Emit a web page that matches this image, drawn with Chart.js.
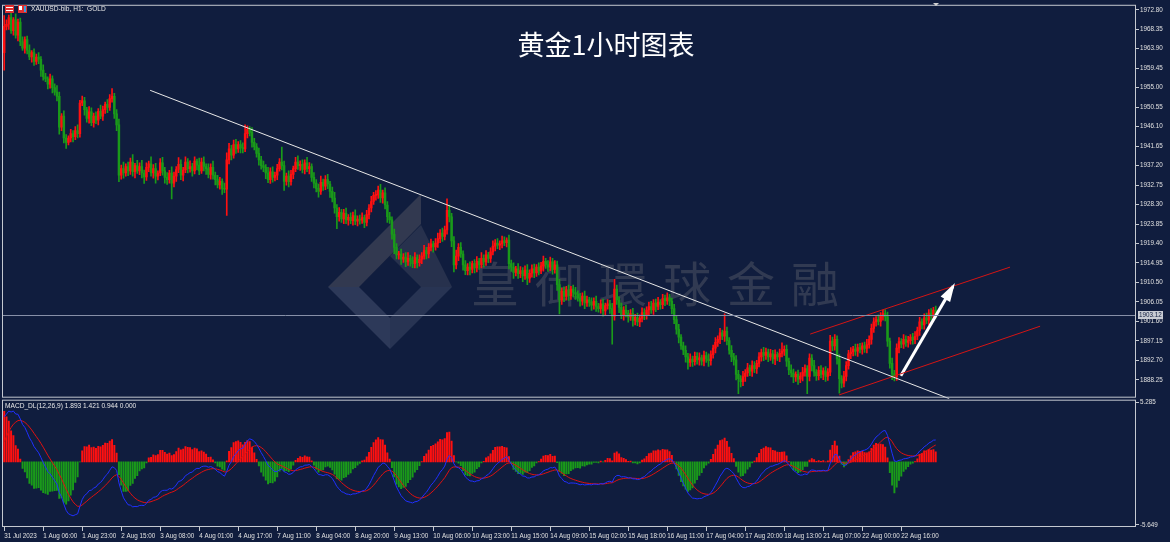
<!DOCTYPE html>
<html>
<head>
<meta charset="utf-8">
<script src="https://cdn.jsdelivr.net/npm/chart.js@4.4.0/dist/chart.umd.min.js"></script>
<style>
  html, body { margin: 0; padding: 0; background: #101d3e; }
  #wrap { width: 1170px; height: 542px; position: relative; }
</style>
</head>
<body>
<div id="wrap"><canvas id="gold-chart" width="1170" height="542"></canvas></div>
<script>
// XAUUSD H1, 31 Jul - 23 Aug 2023
const tickLabels = ['31 Jul 2023', '1 Aug 06:00', '1 Aug 23:00', '2 Aug 15:00', '3 Aug 08:00', '4 Aug 01:00',
  '4 Aug 17:00', '7 Aug 11:00', '8 Aug 04:00', '8 Aug 20:00', '9 Aug 13:00', '10 Aug 06:00', '10 Aug 23:00',
  '11 Aug 15:00', '14 Aug 09:00', '15 Aug 02:00', '15 Aug 18:00', '16 Aug 11:00', '17 Aug 04:00',
  '17 Aug 20:00', '18 Aug 13:00', '21 Aug 07:00', '22 Aug 00:00', '22 Aug 16:00'];
const barsPerTick = 17;

const priceTicks = [1972.80, 1968.35, 1963.90, 1959.45, 1955.00, 1950.55, 1946.10, 1941.65, 1937.20, 1932.75,
  1928.30, 1923.85, 1919.40, 1914.95, 1910.50, 1906.05, 1901.60, 1897.15, 1892.70, 1888.25];
const macdTicks = [5.285, -5.649];

const firstOpen = 1963.0;
const closes = [
  1969.0, 1969.5, 1971.0, 1968.0, 1970.5, 1967.0, 1970.0, 1965.5, 1964.0, 1966.0,
  1963.5, 1962.0, 1963.0, 1961.0, 1962.0, 1961.5, 1959.0, 1957.5, 1957.0, 1955.8,
  1957.0, 1955.0, 1954.0, 1953.0, 1946.0, 1948.5, 1943.5, 1942.5, 1943.5, 1944.5,
  1943.8, 1945.2, 1944.5, 1951.5, 1952.0, 1950.0, 1948.0, 1949.5, 1947.0, 1948.5,
  1947.6, 1949.6, 1948.5, 1950.0, 1951.2, 1950.5, 1952.5, 1953.0, 1949.0, 1946.5,
  1935.0, 1936.5, 1935.5, 1937.0, 1936.0, 1938.0, 1935.8, 1937.2, 1936.0, 1937.0,
  1935.5, 1934.6, 1936.8, 1937.6, 1935.5, 1936.5, 1934.8, 1935.5, 1937.8, 1936.0,
  1934.5, 1934.0, 1935.5, 1933.2, 1934.8, 1936.3, 1937.5, 1935.0, 1936.2, 1938.0,
  1936.5, 1937.0, 1936.0, 1938.2, 1937.3, 1936.0, 1938.0, 1937.0, 1936.5, 1935.2,
  1936.8, 1935.0, 1934.0, 1932.8, 1933.6, 1932.0, 1931.8, 1938.5, 1941.0, 1939.6,
  1942.0, 1941.0, 1942.0, 1941.3, 1941.0, 1944.5, 1945.5, 1944.8, 1942.5, 1941.5,
  1940.0, 1938.5, 1937.2, 1936.8, 1935.5, 1934.0, 1935.8, 1934.5, 1935.0, 1936.5,
  1938.0, 1937.2, 1933.6, 1934.8, 1933.5, 1935.2, 1936.5, 1938.0, 1937.2, 1937.5,
  1936.3, 1937.8, 1936.5, 1937.0, 1934.5, 1933.2, 1932.0, 1931.3, 1933.4, 1932.5,
  1934.0, 1933.0, 1931.3, 1929.8, 1927.5, 1925.5, 1926.5, 1925.0, 1926.3, 1924.8,
  1925.4, 1924.6, 1925.8, 1924.5, 1925.0, 1924.7, 1925.3, 1924.2, 1926.0, 1927.5,
  1929.0, 1930.4, 1930.5, 1931.6, 1929.8, 1931.0, 1928.2, 1925.5, 1924.8, 1921.5,
  1918.5, 1916.8, 1917.0, 1915.8, 1916.3, 1915.2, 1916.0, 1915.5, 1914.8, 1916.2,
  1915.0, 1915.8, 1916.5, 1917.8, 1917.0, 1918.5, 1919.3, 1918.6, 1919.5, 1920.5,
  1921.8, 1921.0, 1922.5, 1927.0, 1925.5, 1920.0, 1914.5, 1916.5, 1918.5, 1917.0,
  1914.5, 1913.2, 1914.0, 1913.5, 1914.8, 1913.8, 1915.3, 1914.5, 1916.0, 1915.2,
  1916.8, 1916.0, 1917.5, 1918.8, 1919.5, 1919.0, 1919.3, 1920.0, 1919.6, 1920.2,
  1914.8, 1914.0, 1912.8, 1913.6, 1912.5, 1913.2, 1912.0, 1913.3, 1911.5, 1912.6,
  1913.6, 1912.7, 1914.0, 1913.2, 1914.3, 1915.3, 1914.6, 1914.0, 1915.2, 1913.5,
  1914.5, 1910.0, 1906.5, 1908.5, 1907.3, 1908.8, 1907.5, 1909.0, 1908.2, 1907.8,
  1907.0, 1906.2, 1907.4, 1905.8, 1906.5, 1906.0, 1905.3, 1906.2, 1905.0, 1904.5,
  1905.6, 1904.0, 1905.2, 1905.6, 1904.5, 1902.8, 1909.0, 1906.5, 1904.8, 1903.0,
  1904.2, 1903.5, 1902.6, 1903.4, 1901.8, 1902.5, 1901.5, 1902.3, 1903.6, 1903.0,
  1904.2, 1905.0, 1904.2, 1905.8, 1905.0, 1906.0, 1905.4, 1906.8, 1906.3, 1906.9,
  1906.2, 1904.5, 1902.0, 1899.8, 1898.0, 1896.0, 1895.0, 1893.5, 1892.2, 1893.0,
  1892.4, 1893.6, 1892.8, 1893.3, 1892.5, 1893.8, 1893.0, 1892.6, 1894.0, 1895.5,
  1896.8, 1897.5, 1899.0, 1898.2, 1899.4, 1897.2, 1895.0, 1893.5, 1892.8, 1889.5,
  1888.5, 1887.8, 1889.0, 1889.8, 1891.0, 1890.2, 1891.5, 1890.8, 1892.0, 1893.5,
  1894.5, 1893.8, 1894.6, 1893.5, 1894.2, 1893.0, 1894.0, 1893.5, 1894.3, 1894.8,
  1895.2, 1892.5, 1890.5, 1889.8, 1888.9, 1889.5, 1888.4, 1889.1, 1890.0, 1890.8,
  1889.0, 1893.2, 1891.5, 1890.0, 1889.2, 1890.4, 1889.5, 1890.3, 1889.0, 1890.0,
  1897.1, 1896.0, 1897.5, 1893.0, 1888.5, 1887.5, 1889.0, 1891.5, 1894.2, 1894.6,
  1895.3, 1894.8, 1895.6, 1895.2, 1896.0, 1895.4, 1896.3, 1897.5, 1900.0, 1901.5,
  1902.0, 1901.6, 1902.8, 1903.4, 1902.7, 1897.1, 1892.0, 1889.6, 1889.0, 1895.5,
  1897.0, 1896.4, 1897.5, 1896.8, 1897.2, 1898.0, 1897.4, 1898.2, 1899.5, 1901.5,
  1900.8, 1902.4, 1901.9, 1903.5, 1902.8, 1904.2, 1903.12
];
const upWick = [
  2.5,1.0,0.6,1.2,0.5,1.4,0.7,0.9,1.1,0.6, 0.8,1.3,0.5,0.9,0.7,1.0,0.6,1.2,0.8,0.5,
  1.1,0.7,0.9,1.5,1.0,0.6,1.2,0.8,0.5,1.0, 0.7,0.9,1.3,0.6,1.1,0.8,0.5,1.2,0.9,0.7,
  1.0,0.6,1.4,0.8,0.5,1.1,0.9,1.8,0.7,1.0, 1.3,0.8,1.5,0.6,1.0,0.9,1.7,0.5,1.2,0.8,
  1.4,0.7,1.0,0.6,1.6,0.9,1.2,0.5,1.0,1.3, 0.8,1.1,0.6,1.4,0.9,0.7,1.5,1.0,0.6,1.2,
  0.8,1.3,0.7,1.0,0.5,1.6,0.9,1.2,0.6,1.1, 0.8,1.4,0.7,1.0,0.9,0.6,1.2,1.6,1.3,0.8,
  1.0,1.2,0.7,0.9,1.1,2.0,0.8,0.6,1.1,0.9, 0.7,1.2,0.8,1.0,0.6,1.3,0.9,1.1,0.7,1.0,
  0.8,3.4,1.0,0.7,1.2,0.9,0.6,1.1,1.4,0.8, 1.0,0.7,1.3,0.9,0.6,1.1,0.8,1.0,1.4,0.7,
  0.9,1.2,0.6,1.0,1.3,0.8,1.1,0.7,0.9,1.2, 0.6,1.0,0.8,1.3,0.7,0.9,1.1,0.6,1.0,0.8,
  1.2,0.7,1.0,0.9,1.3,0.6,1.1,0.8,1.0,0.7, 1.2,0.9,0.6,1.1,0.8,1.0,1.3,0.7,0.9,1.1,
  0.6,1.0,0.8,1.2,0.7,0.9,1.1,0.6,1.0,1.3, 0.8,1.1,0.9,2.6,1.2,0.8,1.0,1.4,0.9,1.1,
  0.7,1.0,0.8,1.2,0.6,0.9,1.1,0.7,1.3,0.8, 1.0,0.6,0.9,1.2,0.8,1.0,0.7,1.1,0.9,0.5,
  1.1,0.8,1.0,0.6,1.2,0.9,0.7,1.0,1.3,0.8, 0.9,1.1,0.6,1.0,0.8,1.2,0.7,0.9,1.1,0.8,
  1.0,0.9,1.2,0.7,1.0,0.8,1.1,0.6,0.9,1.2, 0.8,1.0,0.7,1.1,0.9,0.6,1.0,0.8,1.2,0.7,
  0.9,1.1,0.6,1.0,0.8,1.2,2.2,0.9,0.7,1.0, 0.8,1.1,0.6,0.9,1.2,0.7,1.0,0.8,1.1,0.9,
  0.7,1.0,1.2,0.8,0.9,1.1,0.6,1.0,0.8,1.2, 0.9,0.7,1.0,0.8,1.1,0.6,0.9,1.0,0.8,1.2,
  0.7,1.0,0.9,1.1,0.6,1.0,0.8,1.2,0.9,0.7, 1.1,0.8,1.0,0.6,3.9,0.9,0.7,1.1,0.8,1.0,
  0.9,0.7,1.2,0.8,1.0,0.6,1.1,0.9,0.7,1.0, 0.8,1.2,0.9,0.7,1.0,0.8,1.1,0.6,1.0,1.9,
  0.8,1.0,0.7,1.2,0.9,0.6,1.0,0.8,1.1,0.9, 0.7,1.0,0.8,1.2,0.6,0.9,1.1,0.7,1.0,0.8,
  1.3,0.9,1.1,0.8,1.0,0.7,1.2,0.9,0.8,1.0, 0.6,1.1,0.8,1.0,0.7,0.9,1.2,0.8,1.0,0.9,
  0.7,1.1,0.8,0.8,0.9,1.0,0.7,1.2,0.8,1.0, 0.9,0.7,1.1,0.8,1.0,0.6,0.9,1.1,0.8,1.0,
  0.7,0.9,1.1,0.8,1.0,0.6,0.9
];
const downWick = [
  4.0,0.8,1.2,0.6,1.0,0.7,1.3,0.9,0.5,1.1, 0.8,0.6,1.2,0.9,0.7,1.0,1.4,0.8,0.6,1.1,
  0.9,1.2,0.7,1.0,1.6,0.8,1.1,1.4,0.6,0.9, 1.2,0.7,1.0,0.8,0.6,1.3,0.9,1.1,0.7,1.0,
  0.8,1.1,0.6,1.0,0.9,1.2,0.7,0.8,1.0,1.3, 1.5,0.9,1.2,0.7,1.1,0.8,1.0,1.4,0.6,0.9,
  1.1,1.5,0.8,1.0,0.7,1.2,1.6,0.9,0.6,1.0, 1.3,1.1,0.8,3.6,0.9,1.2,0.7,1.0,1.3,0.6,
  1.0,0.8,1.2,0.7,1.1,0.9,0.6,1.0,1.3,0.8, 1.1,0.9,1.2,0.7,1.0,1.4,0.8,6.0,0.9,1.1,
  0.7,1.0,0.8,1.2,0.9,0.6,1.0,0.8,1.1,0.7, 0.9,1.2,0.8,1.0,1.3,0.7,0.9,1.1,0.8,1.0,
  0.6,1.0,2.1,0.9,1.2,0.8,1.0,0.7,0.9,1.1, 0.8,1.0,0.7,1.2,0.9,1.1,0.8,1.3,0.7,1.0,
  0.8,1.1,1.4,0.9,1.2,2.7,1.0,0.8,1.1,0.9, 1.2,0.7,1.0,0.8,1.1,0.9,0.7,1.2,0.8,1.0,
  0.9,0.7,1.1,0.8,1.0,1.2,0.9,1.3,0.8,1.1, 1.4,0.9,1.0,1.2,0.7,1.1,0.8,1.3,0.9,1.0,
  1.2,0.8,1.0,0.7,1.1,0.9,0.8,1.2,0.7,1.0, 0.9,1.1,0.8,1.0,1.2,1.3,1.6,0.9,1.0,0.8,
  1.2,0.9,1.0,1.3,0.8,1.1,0.9,1.0,0.7,1.2, 0.8,1.0,0.9,0.7,1.1,0.8,1.0,0.9,0.7,1.0,
  1.2,1.0,1.4,0.8,1.1,0.9,1.3,0.8,1.5,1.0, 0.9,1.1,0.8,1.0,0.7,1.2,0.9,1.0,0.8,1.1,
  0.9,1.3,3.2,1.0,1.2,0.8,1.1,0.9,1.0,1.2, 0.8,1.1,0.9,1.3,0.8,1.0,1.2,0.9,1.1,0.8,
  1.0,1.2,0.9,0.8,1.1,6.4,0.9,1.0,1.2,0.8, 1.1,0.9,1.2,0.8,1.3,1.0,0.9,1.1,0.8,1.0,
  0.9,1.1,0.8,1.0,1.2,0.7,1.0,0.9,1.1,0.8, 1.0,1.2,0.9,1.1,1.3,0.8,1.0,1.2,1.5,0.9,
  1.1,0.8,1.0,1.2,0.9,1.1,0.8,1.3,1.0,0.8, 1.1,0.9,1.0,0.8,1.2,1.0,0.9,1.1,1.2,1.3,
  3.4,1.2,0.9,1.1,0.8,1.0,1.2,0.9,1.1,0.8, 1.0,1.2,0.9,1.1,0.8,1.0,1.3,0.9,1.1,0.8,
  1.0,1.2,1.1,0.9,1.3,1.0,1.2,0.8,1.1,0.9, 3.9,1.0,1.2,0.9,1.1,1.0,0.8,1.2,1.1,0.9,
  0.8,1.1,1.0,1.2,3.3,1.1,0.9,1.0,0.8,1.1, 0.9,1.0,1.2,0.8,1.1,0.9,1.0,0.8,1.1,0.9,
  1.0,0.8,1.1,0.9,1.0,1.2,1.1,1.3,1.0,0.9, 1.1,0.8,1.0,0.9,1.1,0.8,1.0,0.9,0.8,1.1,
  0.9,1.0,0.8,1.1,0.9,1.0,0.8
];
const lastPrice = 1903.12;

// MACD_DL(12,26,9): state carried in from the bars before the visible window
const macdSeed = { ema12: 1961.5, ema26: 1957.8, dea: 1.2 };
const macdLabel = 'MACD_DL(12,26,9) 1.893 1.421 0.944 0.000';

// hand-drawn objects on the chart, as [bar index, price]
const trendLine = [[63.6, 1954.4], [411.9, 1883.94]];
const channelUpper = [[351.3, 1898.7], [438.4, 1914.0]];
const channelLower = [[363.9, 1884.8], [451.5, 1900.5]];
const arrowLine = [[390.8, 1889.2], [413.5, 1909.6]];

const BG = '#101d3e';
const FRAME = '#c4c8d0';
const UP = '#ff1010';
const DOWN = '#1a9a1a';
const AXIS_FONT = "'Liberation Sans', Arial, sans-serif";

const opens = closes.map((c, i) => i === 0 ? firstOpen : closes[i - 1]);
const highs = closes.map((c, i) => Math.max(opens[i], c) + upWick[i]);
const lows = closes.map((c, i) => Math.min(opens[i], c) - downWick[i]);
const candleColors = closes.map((c, i) => c >= opens[i] ? UP : DOWN);

const dif = [], dea = [], hist = [];
let e12 = macdSeed.ema12, e26 = macdSeed.ema26, sig = macdSeed.dea;
closes.forEach(c => {
  e12 += (c - e12) * 2 / 13;
  e26 += (c - e26) * 2 / 27;
  const m = e12 - e26;
  sig += (m - sig) * 2 / 10;
  dif.push(m);
  dea.push(sig);
  hist.push(2 * (m - sig));
});

function pts(arr) {
  return arr.map(p => ({ x: p[0], y: p[1] }));
}

const overlay = {
  id: 'overlay',
  beforeDraw(chart) {
    const ctx = chart.ctx;
    ctx.save();
    ctx.fillStyle = BG;
    ctx.fillRect(0, 0, chart.width, chart.height);
    ctx.restore();
  },
  beforeDatasetsDraw(chart) {
    const ctx = chart.ctx;
    const y = chart.scales.y;
    const a = chart.chartArea;
    ctx.save();
    ctx.beginPath();
    ctx.rect(a.left, y.top, a.right - a.left, y.bottom - y.top);
    ctx.clip();
    // watermark logo
    const polys = [
      [[[328, 287], [421, 194], [421, 224], [359, 287]], 'rgba(150,140,130,0.26)'],
      [[[328, 287], [359, 287], [390, 318], [390, 349]], 'rgba(150,160,185,0.22)'],
      [[[390, 256], [421, 225], [452, 287], [421, 287]], 'rgba(110,110,120,0.26)'],
      [[[421, 287], [452, 287], [390, 349], [390, 318]], 'rgba(150,160,185,0.18)']
    ];
    polys.forEach(([p, col]) => {
      ctx.beginPath();
      ctx.moveTo(p[0][0], p[0][1]);
      p.slice(1).forEach(q => ctx.lineTo(q[0], q[1]));
      ctx.closePath();
      ctx.fillStyle = col;
      ctx.fill();
    });
    ctx.fillStyle = 'rgba(120,120,125,0.32)';
    ctx.font = "48px 'Noto Sans CJK TC', 'Noto Sans CJK SC', sans-serif";
    ctx.textBaseline = 'middle';
    ctx.textAlign = 'left';
    ctx.letterSpacing = '16px';
    ctx.fillText('皇御環球金融', 471, 284);
    ctx.restore();
  },
  afterDatasetsDraw(chart) {
    const ctx = chart.ctx;
    const a = chart.chartArea;
    const x = chart.scales.x, y = chart.scales.y, ym = chart.scales.yMacd;
    ctx.save();

    // current price line and label
    const py = Math.round(y.getPixelForValue(lastPrice)) + 0.5;
    ctx.strokeStyle = '#8790a8';
    ctx.lineWidth = 1;
    ctx.beginPath();
    ctx.moveTo(a.left, py);
    ctx.lineTo(a.right, py);
    ctx.stroke();

    // arrow head
    const x0 = x.getPixelForValue(arrowLine[0][0]), y0 = y.getPixelForValue(arrowLine[0][1]);
    const x1 = x.getPixelForValue(arrowLine[1][0]), y1 = y.getPixelForValue(arrowLine[1][1]);
    const ang = Math.atan2(y1 - y0, x1 - x0);
    const hl = 15, hw = 5.5;
    ctx.fillStyle = '#ffffff';
    ctx.beginPath();
    ctx.moveTo(x1 + Math.cos(ang) * 4, y1 + Math.sin(ang) * 4);
    ctx.lineTo(x1 - Math.cos(ang) * hl + Math.sin(ang) * hw, y1 - Math.sin(ang) * hl - Math.cos(ang) * hw);
    ctx.lineTo(x1 - Math.cos(ang) * hl - Math.sin(ang) * hw, y1 - Math.sin(ang) * hl + Math.cos(ang) * hw);
    ctx.closePath();
    ctx.fill();

    // panel frames
    ctx.strokeStyle = FRAME;
    ctx.lineWidth = 1;
    ctx.strokeRect(a.left + 0.5, y.top + 0.5, a.right - a.left - 1, y.bottom - y.top - 2);
    ctx.strokeRect(a.left + 0.5, ym.top + 1.5, a.right - a.left - 1, ym.bottom - ym.top - 2);

    // price label box
    ctx.fillStyle = '#c8ccd4';
    ctx.fillRect(a.right + 2, py - 4.5, 25, 8);
    ctx.fillStyle = '#101d3e';
    ctx.font = '6.3px ' + AXIS_FONT;
    ctx.textBaseline = 'middle';
    ctx.textAlign = 'left';
    ctx.fillText(lastPrice.toFixed(2), a.right + 3, py - 0.5);

    // header texts
    ctx.fillStyle = '#e8e8e8';
    ctx.font = '6.6px ' + AXIS_FONT;
    ctx.fillText('XAUUSD-bib, H1:  GOLD', 31, 9.5);
    ctx.fillText(macdLabel, 5, ym.top + 7);

    // small header icons
    ctx.fillStyle = '#e03030';
    ctx.fillRect(5, 5, 9, 8);
    ctx.fillStyle = '#ffffff';
    ctx.fillRect(6, 7, 7, 1);
    ctx.fillRect(6, 10, 7, 1);
    ctx.fillStyle = '#e03030';
    ctx.fillRect(18, 5, 9, 8);
    ctx.fillStyle = '#ffffff';
    ctx.fillRect(19, 6, 3, 4);
    ctx.fillStyle = '#3aa0e0';
    ctx.fillRect(24, 6, 2, 6);

    // chart shift marker
    ctx.fillStyle = '#d0d0d0';
    ctx.beginPath();
    ctx.moveTo(933, 3);
    ctx.lineTo(939, 3);
    ctx.lineTo(936, 6);
    ctx.closePath();
    ctx.fill();

    // title
    ctx.fillStyle = '#ffffff';
    ctx.font = "27px 'Noto Sans CJK SC', sans-serif";
    ctx.textAlign = 'center';
    ctx.fillText('黄金1小时图表', 606, 45);
    ctx.restore();
  }
};

const ctx = document.getElementById('gold-chart').getContext('2d');
const axisTicks = { color: '#e0e0e0', font: { family: AXIS_FONT, size: 6.3 } };

new Chart(ctx, {
  data: {
    datasets: [
      { type: 'line', data: pts(trendLine), borderColor: '#e8e8e8', borderWidth: 1, pointRadius: 0, yAxisID: 'y', order: 0 },
      { type: 'line', data: pts(channelUpper), borderColor: '#d41414', borderWidth: 1, pointRadius: 0, yAxisID: 'y', order: 0 },
      { type: 'line', data: pts(channelLower), borderColor: '#d41414', borderWidth: 1, pointRadius: 0, yAxisID: 'y', order: 0 },
      { type: 'line', data: pts(arrowLine), borderColor: '#ffffff', borderWidth: 3, pointRadius: 0, yAxisID: 'y', order: 0 },
      { type: 'line', data: dif.map((v, i) => ({ x: i, y: v })), borderColor: '#2030ff', borderWidth: 1, pointRadius: 0, yAxisID: 'yMacd', order: 1 },
      { type: 'line', data: dea.map((v, i) => ({ x: i, y: v })), borderColor: '#e01010', borderWidth: 1, pointRadius: 0, yAxisID: 'yMacd', order: 1 },
      { type: 'bar', data: hist.map((v, i) => ({ x: i, y: v })), backgroundColor: hist.map(v => v >= 0 ? UP : DOWN),
        barThickness: 1.3, grouped: false, yAxisID: 'yMacd', order: 2 },
      { type: 'bar', data: closes.map((c, i) => ({ x: i, y: [opens[i], c] })), backgroundColor: candleColors,
        barThickness: 1.8, minBarLength: 1, grouped: false, yAxisID: 'y', order: 3 },
      { type: 'bar', data: closes.map((c, i) => ({ x: i, y: [lows[i], highs[i]] })), backgroundColor: candleColors,
        barThickness: 1, grouped: false, yAxisID: 'y', order: 4 }
    ]
  },
  options: {
    responsive: false,
    animation: false,
    events: [],
    layout: { padding: { left: 2, top: 2, right: 0, bottom: 0 } },
    plugins: { legend: { display: false }, tooltip: { enabled: false } },
    scales: {
      x: {
        type: 'linear', position: 'bottom', min: -0.96, max: 493.3, offset: false,
        afterBuildTicks: s => { s.ticks = tickLabels.map((t, k) => ({ value: k * barsPerTick })); },
        afterFit: s => { s.height = 15; },
        ticks: Object.assign({}, axisTicks, { autoSkip: false, maxRotation: 0, align: 'start', padding: 1,
          callback: (v, idx) => tickLabels[idx] }),
        grid: { drawOnChartArea: false, tickLength: 4, color: FRAME, offset: false },
        border: { display: false }
      },
      y: {
        type: 'linear', position: 'right', stack: 'panes', stackWeight: 396,
        min: 1883.94, max: 1973.94,
        afterBuildTicks: s => { s.ticks = priceTicks.map(v => ({ value: v })); },
        afterFit: s => { s.width = 34; },
        ticks: Object.assign({}, axisTicks, { autoSkip: false, padding: 1, callback: v => v.toFixed(2) }),
        grid: { drawOnChartArea: false, tickLength: 3, color: FRAME },
        border: { display: false }
      },
      yMacd: {
        type: 'linear', position: 'right', stack: 'panes', stackWeight: 129,
        min: -5.829, max: 5.645,
        afterBuildTicks: s => { s.ticks = macdTicks.map(v => ({ value: v })); },
        afterFit: s => { s.width = 34; },
        ticks: Object.assign({}, axisTicks, { autoSkip: false, padding: 1, callback: v => v.toFixed(3) }),
        grid: { drawOnChartArea: false, tickLength: 3, color: FRAME },
        border: { display: false }
      }
    }
  },
  plugins: [overlay]
});
</script>
</body>
</html>
